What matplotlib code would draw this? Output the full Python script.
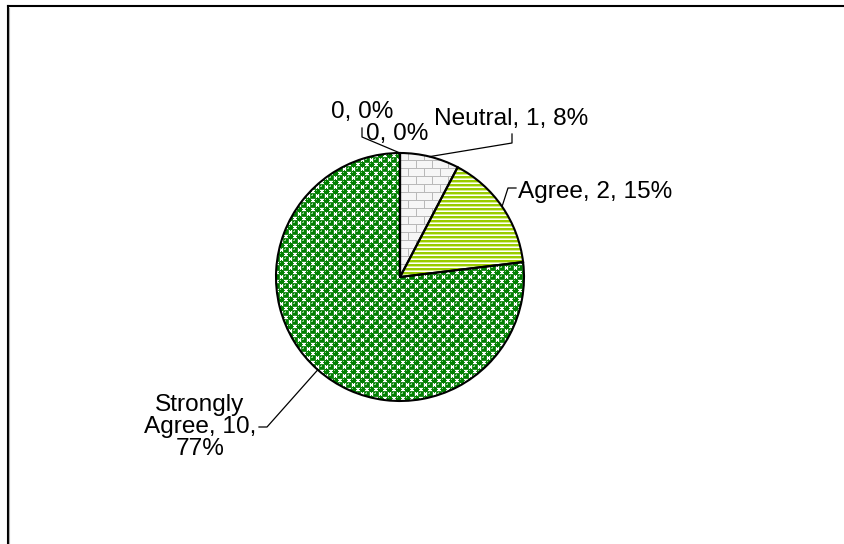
import textwrap
import numpy as np
import matplotlib
matplotlib.use("Agg")
import matplotlib.pyplot as plt
from matplotlib.lines import Line2D

# ---------------- data ----------------
categories = ["", "", "Neutral", "Agree", "Strongly Agree"]
values = [0, 0, 1, 2, 10]

# ---------------- layout (pixels, origin top-left) ----------------
W, H = 845, 544
CENTER_PX = (400, 277)
RADIUS = 124
# text anchor, alignment and leader elbow points for each label
label_layout = [
    dict(xy=(362, 118), ha="center", va="baseline", leader=[(362, 137), (362, 128)]),
    dict(xy=(397.5, 140), ha="center", va="baseline", leader=None),
    dict(xy=(511, 125), ha="center", va="baseline", leader=[(512, 143), (512, 134)]),
    dict(xy=(518, 198), ha="left", va="baseline", leader=[(508, 188), (516, 188)]),
    dict(xy=(200, 427), ha="center", va="center", leader=[(267, 427), (259, 427)]),
]
textures = [None, None, "brick", "stripes", "spheres"]

plt.rcParams["font.family"] = ["Liberation Sans", "DejaVu Sans"]
FONT_SIZE = 17.6

fig = plt.figure(figsize=(W / 100, H / 100), dpi=100)
ax = fig.add_axes([0, 0, 1, 1])


def to_data(p):
    return (p[0], H - p[1])


center = to_data(CENTER_PX)
wedges, _ = ax.pie(values, center=center, radius=RADIUS, startangle=90,
                   counterclock=False, normalize=True,
                   wedgeprops=dict(facecolor="none", edgecolor="black",
                                   linewidth=1.5, zorder=3))
ax.set_xlim(0, W)
ax.set_ylim(0, H)
ax.set_aspect("equal")
ax.axis("off")

# ---------------- pixel textures ----------------
yy, xx = np.mgrid[0:H, 0:W]


def tex_spheres():
    P = 9.0
    img = np.ones((H, W, 3))
    px = xx % P + 0.5
    py = yy % P + 0.5
    best = np.full((H, W), 99.0)
    bdx = np.zeros((H, W))
    bdy = np.zeros((H, W))
    for cx, cy in [(2.5, 2.5), (7.0, 7.0)]:
        dx = ((px - cx + P / 2) % P) - P / 2
        dy = ((py - cy + P / 2) % P) - P / 2
        d = np.hypot(dx, dy)
        m = d < best
        best = np.where(m, d, best)
        bdx = np.where(m, dx, bdx)
        bdy = np.where(m, dy, bdy)
    ball = best < 3.1
    img[ball] = (0 / 255, 128 / 255, 0 / 255)
    edge = ball & (best > 2.5)
    img[edge] = (40 / 255, 140 / 255, 40 / 255)
    hl = np.hypot(bdx + 0.9, bdy + 0.9) < 0.8
    img[hl] = (130 / 255, 205 / 255, 130 / 255)
    return img


def tex_stripes():
    img = np.ones((H, W, 3))
    r = yy % 4
    img[r < 2] = (153 / 255, 204 / 255, 0)
    img[r == 2] = (215 / 255, 238 / 255, 140 / 255)
    return img


def tex_brick():
    img = np.full((H, W, 3), 246 / 255)
    row = yy // 8
    mortar = (yy % 8 == 0)
    shift = np.where(row % 2 == 0, 0, 8)
    mortar |= ((xx + shift) % 16 == 0)
    img[mortar] = 185 / 255
    return img


tex_funcs = {"spheres": tex_spheres, "stripes": tex_stripes, "brick": tex_brick}

for w, t in zip(wedges, textures):
    if t is None:
        continue
    im = ax.imshow(tex_funcs[t](), extent=(0, W, 0, H), origin="upper",
                   interpolation="nearest", zorder=1)
    im.set_clip_path(w)

# ---------------- labels ----------------
total = sum(values)
for w, cat, v, lay in zip(wedges, categories, values, label_layout):
    pct = round(100 * v / total)
    txt = f"{cat}, {v}, {pct}%" if cat else f"{v}, {pct}%"
    if len(txt) > 16:
        txt = textwrap.fill(txt, 10)
    x, y = to_data(lay["xy"])
    ax.text(x, y, txt, ha=lay["ha"], va=lay["va"], fontsize=FONT_SIZE,
            linespacing=1.0, zorder=5)
    if lay["leader"]:
        mid = np.deg2rad((w.theta1 + w.theta2) / 2)
        ax_ = center[0] + RADIUS * np.cos(mid)
        ay_ = center[1] + RADIUS * np.sin(mid)
        pts = [(ax_, ay_)] + [to_data(p) for p in lay["leader"]]
        xs, ys = zip(*pts)
        ax.plot(xs, ys, color="black", linewidth=0.9, zorder=4)

# ---------------- chart frame (top and left edges) ----------------
fig.add_artist(Line2D([8 / W, 8 / W], [0, 1 - 6 / H], transform=fig.transFigure,
                      color="black", linewidth=1.5))
fig.add_artist(Line2D([8 / W, 1], [1 - 6 / H, 1 - 6 / H], transform=fig.transFigure,
                      color="black", linewidth=1.5))
fig.add_artist(Line2D([9.5 / W, 9.5 / W], [0, 1 - 7.5 / H], transform=fig.transFigure,
                      color="#b0b0b0", linewidth=0.8))

fig.savefig("out.png", dpi=100)
